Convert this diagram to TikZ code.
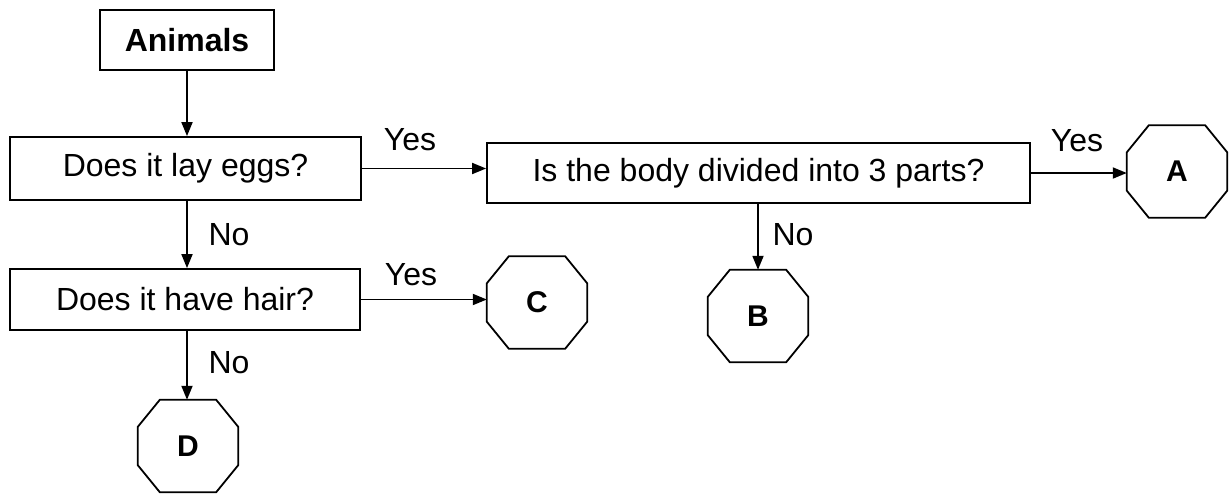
\documentclass[tikz,border=0pt]{standalone}
\usepackage{fontspec}
\setmainfont{Liberation Sans}
\usetikzlibrary{arrows.meta,calc}
\tikzset{
  box/.style={draw, line width=1.8pt, rectangle, inner sep=0pt, font=\fontsize{32}{38}\selectfont},
  octnode/.style={rectangle, inner sep=0pt, minimum width=100pt, minimum height=92pt, font=\bfseries\fontsize{30}{36}\selectfont},
  conn/.style={line width=1.8pt, -{Triangle[length=14pt,width=11pt]}},
  lab/.style={font=\fontsize{32}{38}\selectfont, inner sep=0pt},
  octline/.style={line width=1.8pt, line join=miter},
}
\newcommand\octdraw[1]{%
  \draw[octline] ($(#1.north west)+(22,0)$) -- ($(#1.north east)+(-22,0)$)
    -- ($(#1.north east)+(0,27)$) -- ($(#1.south east)+(0,-27)$)
    -- ($(#1.south east)+(-22,0)$) -- ($(#1.south west)+(22,0)$)
    -- ($(#1.south west)+(0,-27)$) -- ($(#1.north west)+(0,27)$) -- cycle;}
\begin{document}
\begin{tikzpicture}[x=1pt, y=-1pt]
\useasboundingbox (0,0) rectangle (1229,493);
% boxes
\node[box, minimum width=174pt, minimum height=60pt, font=\bfseries\fontsize{32}{38}\selectfont] (animals) at (187,40) {Animals};
\node[box, minimum width=351pt, minimum height=63pt] (eggs) at (185.5,168.5) {Does it lay eggs?};
\node[box, minimum width=350pt, minimum height=61pt] (hair) at (185,299.5) {Does it have hair?};
\node[box, minimum width=543pt, minimum height=60pt] (body) at (758.5,173) {Is the body divided into 3 parts?};
% octagons
\node[octnode] (A) at (1177,171.5) {A};
\node[octnode] (B) at (758,316) {B};
\node[octnode] (C) at (537,302.5) {C};
\node[octnode] (D) at (188,446) {D};
\octdraw{A}
\octdraw{B}
\octdraw{C}
\octdraw{D}
% connectors
\draw[conn] (animals.south) -- (animals.south |- eggs.north);
\draw[conn] (animals.south |- eggs.south) -- (animals.south |- hair.north);
\draw[conn] (animals.south |- hair.south) -- (animals.south |- D.north);
\draw[conn] (eggs.east) -- (eggs.east -| body.west);
\draw[conn] (hair.east) -- (hair.east -| C.west);
\draw[conn] (body.east) -- (body.east -| A.west);
\draw[conn] (B.north |- body.south) -- (B.north);
% labels
\node[lab] (y1) at (410,140) {Yes};
\node[lab] (y2) at (411,275) {Yes};
\node[lab] (y3) at (1077,141) {Yes};
\node[lab] (n1) at (229,235) {No};
\node[lab] (n2) at (229,363) {No};
\node[lab] (n3) at (793,235) {No};
\end{tikzpicture}
\end{document}
